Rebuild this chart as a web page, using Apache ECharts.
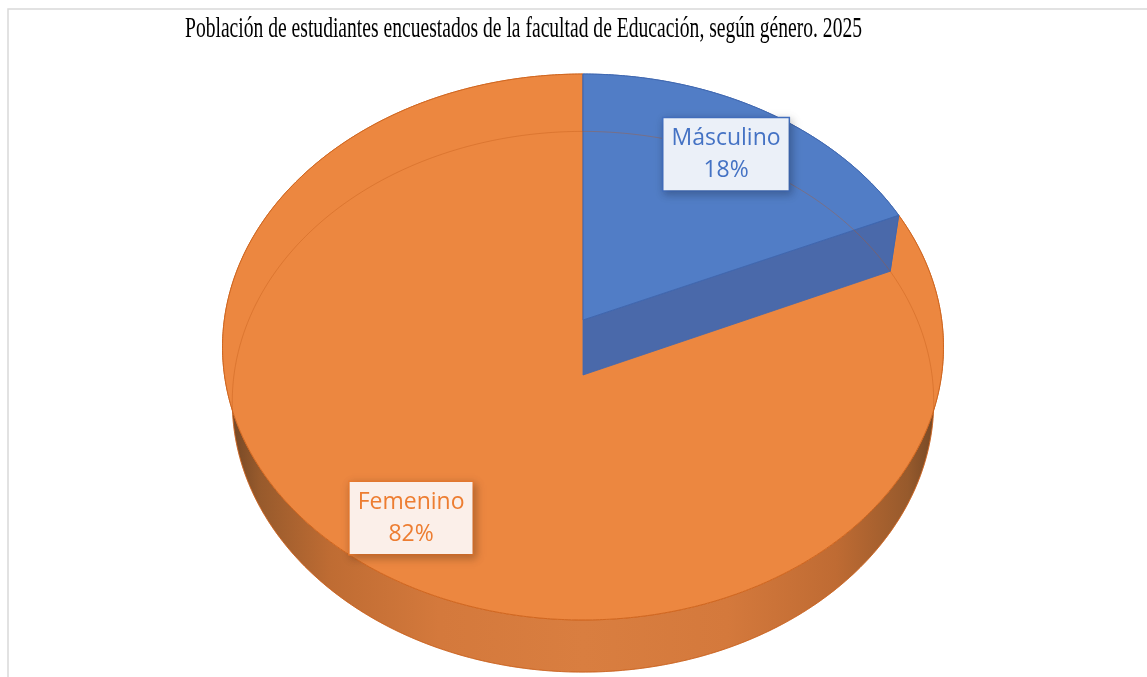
<!DOCTYPE html>
<html>
<head>
<meta charset="utf-8">
<script src="https://cdn.jsdelivr.net/npm/echarts@6/dist/echarts.min.js"></script>
<style>
  html, body { margin: 0; padding: 0; background: #fff; }
  #chart { width: 1147px; height: 677px; }
</style>
</head>
<body>
<div id="chart"></div>
<script>
const titleText = 'Población de estudiantes encuestados de la facultad de Educación, según género. 2025'
const categories = ['Másculino', 'Femenino']
const values = [18.4, 81.6]

const topColors = ['#517DC6', '#EC8740']
const wallColors = ['#4A69AA', '#C96A2C']
const edgeColors = ['#3F67B0', '#D0661F']
const labelText = ['#4472C4', '#ED7D31']
const labelBg = ['#EBF0F8', '#FBEFE9']

// proyección del pastel 3D (cara superior e inferior)
const CX = 583
const K = 0.0989
const TOP = { cy: 320, a: 358.7, b: 270.3 }
const BOT = { cy: 375, a: 349, b: 267.7 }

const total = values.reduce((s, v) => s + v, 0)
const starts = []
values.reduce((acc, v, i) => { starts[i] = acc; return acc + v }, 0)

function proj (theta, r, face) {
  const X = Math.sin(theta) * r
  const Z = Math.cos(theta) * r
  const w = 1 + K * Z
  return [CX + face.a * X / w, face.cy - face.b * Z / w]
}

function arc (a0, a1, face) {
  const pts = []
  const n = Math.max(2, Math.ceil((a1 - a0) / (Math.PI / 360)))
  for (let j = 0; j <= n; j++) {
    pts.push(proj(a0 + (a1 - a0) * j / n, 1, face))
  }
  return pts
}

const sideFill = new echarts.graphic.LinearGradient(223, 0, 944, 0, [
  { offset: 0, color: '#6a4224' },
  { offset: 0.05, color: '#975a2c' },
  { offset: 0.15, color: '#bf6c33' },
  { offset: 0.3, color: '#d4793c' },
  { offset: 0.5, color: '#d97e40' },
  { offset: 0.7, color: '#d4793c' },
  { offset: 0.85, color: '#bf6b33' },
  { offset: 0.95, color: '#975a2c' },
  { offset: 1, color: '#6a4224' }
], true)

function renderItem (params, api) {
  const i = params.dataIndex
  const a0 = starts[i] / total * Math.PI * 2
  const a1 = (starts[i] + api.value(0)) / total * Math.PI * 2
  const base = (values.length - 1 - i) * 10
  const children = []

  // pared exterior
  const topArc = arc(a0, a1, TOP)
  const botArc = arc(a0, a1, BOT)
  children.push({
    type: 'polygon',
    z2: base + 1,
    shape: { points: topArc.concat(botArc.slice().reverse()) },
    style: { fill: i === 1 ? sideFill : wallColors[i], stroke: edgeColors[i], lineWidth: 0.8 }
  })

  // paredes radiales que miran al frente
  ;[[a0, a0 - Math.PI / 2], [a1, a1 + Math.PI / 2]].forEach(([ang, nrm]) => {
    if (Math.cos(nrm) < -0.01) {
      children.push({
        type: 'polygon',
        z2: base + 3,
        shape: { points: [proj(ang, 0, TOP), proj(ang, 1, TOP), proj(ang, 1, BOT), proj(ang, 0, BOT)] },
        style: { fill: wallColors[i], stroke: edgeColors[i], lineWidth: 0.8 }
      })
    }
  })

  // cara superior
  children.push({
    type: 'polygon',
    z2: base + 5,
    shape: { points: [proj(0, 0, TOP)].concat(topArc) },
    style: { fill: topColors[i], stroke: edgeColors[i], lineWidth: 1 }
  })

  // borde inferior visto por transparencia
  children.push({
    type: 'polyline',
    z2: 50,
    shape: { points: botArc },
    style: { fill: null, stroke: 'rgba(190,85,20,0.35)', lineWidth: 1 }
  })

  // etiqueta
  const mid = (a0 + a1) / 2
  const lp = proj(mid, 0.8, TOP)
  children.push({
    type: 'text',
    z2: 100,
    x: lp[0] - 4,
    y: lp[1] + 4,
    style: {
      text: categories[i] + '\n' + Math.round(api.value(0) / total * 100) + '%',
      fill: labelText[i],
      fontFamily: 'Open Sans',
      fontSize: 23,
      lineHeight: 32,
      align: 'center',
      verticalAlign: 'middle',
      backgroundColor: labelBg[i],
      borderColor: labelText[i],
      borderWidth: 1.5,
      padding: [4, 8, 4, 8],
      shadowBlur: 8,
      shadowColor: 'rgba(0,0,0,0.22)',
      shadowOffsetX: 2,
      shadowOffsetY: 3
    }
  })

  return { type: 'group', children }
}

// ancho del título (tipografía condensada)
const ctx = document.createElement('canvas').getContext('2d')
ctx.font = '30px "Liberation Serif"'
const titleScale = 677 / ctx.measureText(titleText).width

const chart = echarts.init(document.getElementById('chart'))
chart.setOption({
  animation: false,
  graphic: [
    {
      type: 'rect',
      shape: { x: 8, y: 9, width: 1400, height: 900 },
      style: { fill: null, stroke: '#d9d9d9', lineWidth: 1.5 }
    },
    {
      type: 'text',
      x: 185,
      y: 29,
      scaleX: titleScale,
      style: {
        text: titleText,
        font: '30px "Liberation Serif"',
        fill: '#000',
        align: 'left',
        verticalAlign: 'middle'
      }
    }
  ],
  series: [{
    type: 'custom',
    coordinateSystem: 'none',
    renderItem: renderItem,
    data: values.map((v, i) => ({ name: categories[i], value: [v] }))
  }]
})
</script>
</body>
</html>
